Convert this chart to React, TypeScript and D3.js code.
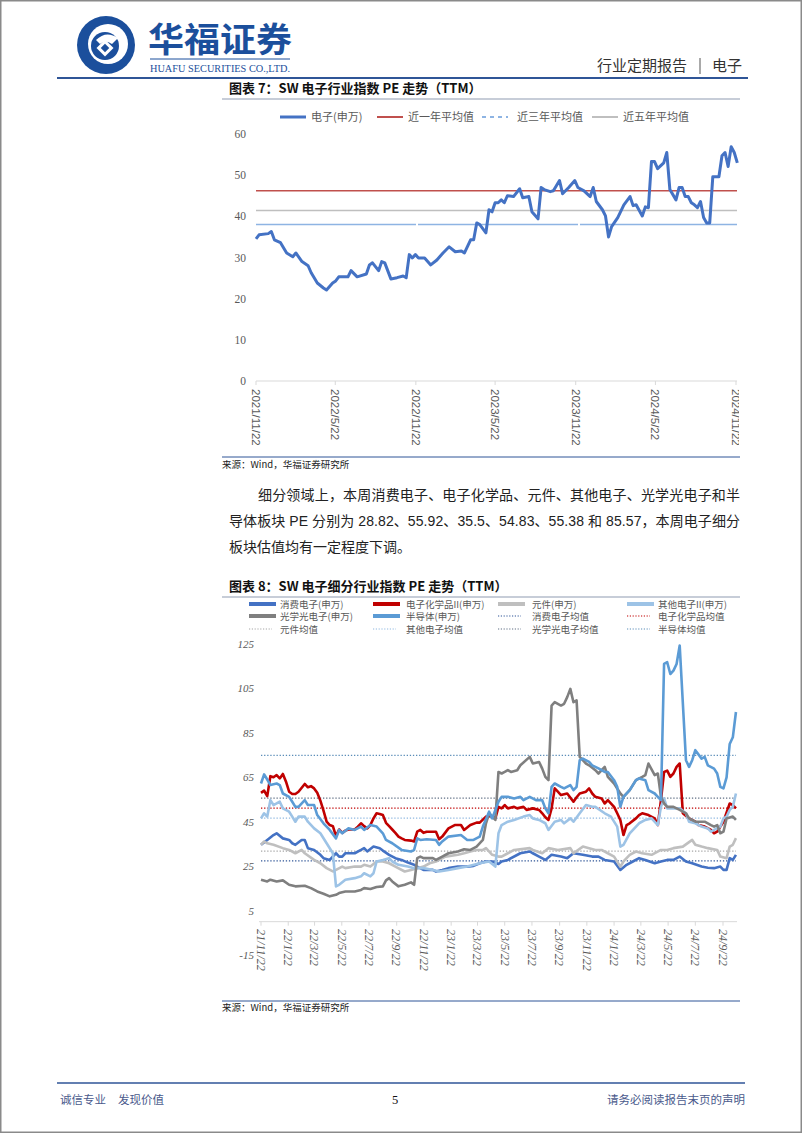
import React from 'react';
import * as d3 from 'd3';

type Pt = [number, number];

const CJK = "'Noto Sans CJK SC', 'Liberation Sans', sans-serif";
const MIX = "'Liberation Sans', 'Noto Sans CJK SC', sans-serif";
const SERIF = "'Liberation Serif', 'Noto Sans CJK SC', serif";

// ---------- Chart 1 data (week offset from 2021-11-22, PE) ----------
const START1 = '2021/11/22';
const END1 = '2024/11/22';
const PE_SW: Pt[] = [
  [0, 34.5], [1, 35.5], [4, 35.8], [5, 36.3], [6, 34.3], [8, 33.6], [10, 31.1], [12, 30.2], [13, 31.1], [15, 29.0],
  [17, 28.0], [18, 26.3], [20, 23.8], [22, 22.6], [23, 22.1], [25, 23.8], [26, 24.3], [27, 25.3], [30, 25.3], [31, 26.8],
  [33, 25.3], [36, 26.0], [37, 28.2], [38, 28.7], [40, 26.8], [41, 29.0], [42, 28.7], [44, 24.8], [46, 25.1], [48, 25.5],
  [49, 25.1], [50, 30.7], [51, 29.9], [52, 30.7], [53, 29.9], [55, 29.9], [57, 28.2], [59, 29.4], [61, 31.1], [63, 32.6],
  [65, 31.4], [67, 31.6], [68, 31.1], [70, 34.3], [71, 34.3], [72, 38.4], [73, 38.0], [75, 36.0], [76, 41.6], [77, 41.1],
  [78, 43.3], [79, 43.3], [80, 44.0], [81, 43.3], [82, 45.0], [84, 44.8], [86, 46.7], [87, 44.5], [89, 44.8], [90, 41.1],
  [92, 39.4], [93, 47.0], [94, 46.5], [96, 46.0], [97, 46.2], [99, 48.7], [100, 45.5], [102, 47.0], [104, 48.7], [105, 47.0],
  [107, 46.2], [109, 44.8], [110, 47.0], [111, 43.6], [113, 41.6], [114, 40.1], [115, 35.0], [116, 37.5], [118, 39.7], [120, 42.8],
  [122, 44.8], [123, 42.6], [124, 42.8], [126, 40.1], [127, 42.3], [128, 42.1], [129, 53.3], [130, 53.3], [131, 51.6], [133, 53.0],
  [134, 55.5], [135, 46.5], [137, 44.0], [138, 47.0], [139, 47.0], [140, 44.8], [141, 44.8], [142, 43.3], [143, 42.8], [144, 42.1],
  [145, 43.6], [146, 39.7], [147, 38.4], [148, 38.4], [149, 49.6], [151, 49.6], [152, 54.7], [153, 55.5], [154, 52.1], [155, 56.9],
  [156, 55.5], [157, 53.0],
];
const AVG_1Y = 46.2;
const AVG_3Y = 38.0;
const AVG_5Y = 41.4;
const Y1_TICKS = [0, 10, 20, 30, 40, 50, 60];
const X1_TICKS = ['2021/11/22', '2022/5/22', '2022/11/22', '2023/5/22', '2023/11/22', '2024/5/22', '2024/11/22'];
const LEGEND1 = ['电子(申万)', '近一年平均值', '近三年平均值', '近五年平均值'];

// ---------- Chart 2 data (week offset from 2021-11-22, PE) ----------
const CONSUMER: Pt[] = [
  [0, 34.6], [2, 36.8], [4, 39], [5, 39.8], [7, 37.5], [9, 36.8], [10, 35.3], [11, 34.6], [13, 36.8], [14, 36.8],
  [15, 33.1], [17, 32.3], [19, 30.1], [20, 28.6], [22, 27.8], [24, 30.8], [25, 29.3], [26, 29.3], [27, 30.8], [30, 30.8],
  [32, 32.3], [33, 33.1], [34, 31.6], [36, 33.8], [38, 33.1], [39, 32], [41, 30.1], [43, 28.6], [45, 27.8], [47, 26.6],
  [49, 25.6], [50, 24.8], [52, 23.3], [55, 23.3], [56, 22.6], [58, 23.3], [60, 24.1], [63, 24.8], [66, 24.8], [68, 25.1],
  [70, 26.3], [72, 27.1], [74, 27.1], [76, 26], [77, 27.1], [79, 27.8], [83, 30.8], [86, 31.6], [87, 30.8], [89, 29.3],
  [91, 27.8], [93, 30.1], [96, 29.3], [98, 28.6], [100, 30.8], [103, 30.1], [106, 29.3], [108, 29.3], [110, 27.8], [113, 27.1],
  [115, 23.3], [117, 25.6], [119, 27.1], [121, 28.6], [123, 27.8], [126, 26.3], [128, 27.1], [130, 27.8], [132, 27.8], [134, 29.3],
  [136, 27.1], [138, 26.3], [141, 24.8], [143, 24.3], [145, 24.1], [147, 24.8], [148, 23.3], [149, 23.3], [150, 28.6], [151, 27.8],
  [152, 30.1],
];
const CHEM: Pt[] = [
  [0, 58], [1, 59], [2, 56.5], [3, 65.5], [4, 65], [5, 66], [6, 64.5], [7, 66.5], [8, 63], [9, 58.5],
  [10, 57.5], [11, 57.5], [12, 58.5], [14, 62], [15, 60.5], [16, 61], [17, 60], [18, 58], [19, 54.5], [20, 50],
  [21, 45], [22, 43.5], [23, 43], [24, 38.5], [25, 41.5], [26, 40], [27, 41], [28, 41.5], [30, 41.5], [31, 42.8],
  [32, 44.3], [33, 43], [34, 42], [35, 43.5], [36, 46.5], [37, 48.8], [38, 48.5], [39, 48], [40, 44.5], [41, 43],
  [42, 41.5], [43, 40], [44, 38.3], [45, 37.5], [46, 36.8], [48, 36.5], [49, 36.1], [50, 40.5], [51, 41.3], [52, 40],
  [53, 40.5], [54, 40.5], [56, 40.5], [57, 37.1], [58, 38.3], [60, 42], [62, 43.5], [64, 43.5], [65, 41.3], [67, 43.5],
  [69, 44.6], [70, 44.6], [72, 47.3], [74, 47.6], [75, 46.5], [76, 51.7], [77, 51], [78, 52.5], [79, 51], [81, 51.7],
  [82, 51], [84, 51.7], [85, 50.3], [87, 51], [89, 50.3], [90, 48.8], [91, 47], [92, 45.8], [93, 51], [94, 60],
  [95, 58.5], [96, 57], [98, 57.7], [100, 54], [101, 56], [102, 57.7], [104, 58.5], [105, 60], [106, 57.7], [107, 56.2],
  [109, 55.5], [110, 53.2], [111, 54.7], [113, 51.7], [114, 48.8], [115, 45.8], [116, 39], [117, 43.5], [118, 44.3], [120, 46.5],
  [121, 48], [122, 48.8], [124, 48], [126, 46.5], [127, 43.5], [128, 54.7], [129, 67.4], [130, 68], [131, 65.2], [132, 66.7],
  [133, 69.7], [134, 71.2], [135, 48.8], [137, 46.5], [139, 45], [140, 43.5], [142, 42.8], [144, 41.3], [145, 39.8], [146, 40.5],
  [147, 42.8], [148, 45], [150, 53.2], [151, 52.5], [152, 51],
];
const COMPONENT: Pt[] = [
  [0, 34.6], [1, 36.1], [2, 35.3], [4, 34.6], [7, 33.1], [9, 32.3], [11, 30.8], [13, 32.3], [14, 30.8], [17, 27.8],
  [19, 26.3], [21, 24.1], [23, 22.6], [24, 23.3], [26, 24.8], [27, 24.1], [30, 24.8], [32, 24.8], [33, 25.6], [35, 24.8],
  [37, 27.1], [39, 27.1], [41, 26.3], [43, 24.8], [46, 22.6], [48, 23.3], [50, 24.1], [52, 24.8], [54, 26.3], [56, 27.1],
  [59, 29.3], [63, 30.1], [65, 30.8], [67, 31.6], [69, 32.3], [71, 32.3], [72, 33.1], [74, 30.1], [76, 29.3], [77, 29.3],
  [79, 30.8], [81, 32.3], [86, 33.1], [87, 32.3], [90, 30.8], [92, 33.1], [95, 32.3], [99, 33.1], [100, 30.8], [103, 33.8],
  [105, 33.1], [107, 32.3], [109, 32.3], [111, 30.8], [113, 29.3], [115, 24.8], [116, 27.1], [118, 30.1], [120, 31.6], [122, 30.8],
  [125, 30.1], [128, 32.3], [130, 32.3], [132, 33.1], [135, 33.8], [138, 36.8], [139, 34.6], [141, 33.8], [143, 33.1], [146, 32.3],
  [147, 29.3], [149, 28.6], [150, 33.8], [151, 34.6], [152, 37.6],
];
const OTHER: Pt[] = [
  [0, 46.5], [1, 48.8], [2, 47.3], [3, 54.7], [4, 52.5], [6, 54], [7, 51], [9, 49.5], [10, 47.3], [11, 45],
  [12, 47.3], [14, 47.3], [15, 45], [17, 42], [19, 39.8], [21, 35.3], [23, 30.8], [24, 15.9], [25, 16.6], [27, 18.9],
  [30, 19.6], [32, 20.4], [33, 21.8], [35, 20.4], [36, 21.8], [37, 27.1], [39, 27.8], [41, 28.6], [42, 27.1], [44, 25.6],
  [47, 24.8], [49, 24.1], [52, 24.1], [55, 23.3], [57, 22.6], [60, 23.3], [63, 24.1], [66, 24.8], [70, 26.3], [73, 27.1],
  [75, 24.8], [76, 39.8], [77, 43.5], [79, 45], [81, 45.8], [84, 47.3], [86, 48], [87, 46.5], [89, 45.8], [91, 44.3],
  [92, 41.3], [94, 45], [96, 45.8], [97, 44.3], [99, 46.5], [100, 45], [102, 48.8], [104, 52.5], [106, 51.7], [107, 51.7],
  [110, 48.8], [112, 47.3], [114, 42.8], [115, 33.8], [116, 34.6], [118, 39.8], [121, 44.3], [123, 45.8], [125, 46.5], [127, 43.5],
  [128, 51.7], [129, 55.5], [130, 51], [132, 51], [134, 51], [136, 48.8], [137, 45], [139, 44.3], [141, 42.8], [143, 42],
  [144, 40.5], [145, 41.3], [147, 42.8], [148, 46.5], [149, 47.3], [150, 50.3], [151, 51.7], [152, 57.7],
];
const OPTO: Pt[] = [
  [0, 18.9], [2, 18.1], [3, 18.9], [5, 18.1], [7, 18.6], [9, 16.6], [11, 15.9], [14, 16.2], [16, 15.1], [18, 13.6],
  [20, 12.6], [22, 11.4], [24, 12.1], [25, 12.9], [27, 13.6], [30, 13.6], [32, 14.3], [33, 15.1], [35, 14.7], [37, 15.6],
  [39, 15.9], [40, 18.6], [41, 19.6], [42, 18.1], [44, 15.9], [46, 16.6], [48, 17.7], [49, 16.6], [50, 28.6], [51, 29.3],
  [52, 28.6], [55, 28.6], [56, 27.8], [58, 29.3], [60, 30.8], [63, 31.6], [65, 32.6], [67, 32.3], [69, 33.8], [71, 36.8],
  [72, 44.3], [73, 48.8], [75, 45.8], [76, 67.4], [77, 66.7], [78, 67.4], [79, 68.2], [80, 67.4], [82, 68.2], [83, 70.4],
  [86, 74.2], [87, 71.2], [89, 71.9], [90, 68.9], [91, 65.2], [92, 63.7], [93, 97.3], [94, 98.8], [96, 97.3], [97, 98.1],
  [98, 101.1], [99, 104.8], [100, 98.8], [101, 99.6], [102, 74.2], [104, 71.2], [105, 70.4], [107, 68.2], [108, 66.7], [110, 69.7],
  [111, 65.2], [113, 62.2], [115, 57.7], [116, 56.2], [118, 59.2], [120, 63.7], [122, 65.2], [123, 66], [124, 71.2], [126, 66],
  [127, 66.7], [128, 56.2], [129, 53.2], [130, 51.7], [132, 51.7], [134, 50.3], [136, 48.8], [137, 46.5], [139, 45], [142, 45],
  [144, 43.5], [145, 42.8], [146, 43.5], [147, 39.8], [148, 40.5], [149, 46.5], [151, 47.3], [152, 45.8],
];
const SEMI: Pt[] = [
  [0, 62.2], [1, 66.3], [2, 64], [3, 61.5], [5, 62.2], [6, 61.5], [7, 57.7], [9, 56.2], [10, 54], [11, 51.7],
  [12, 51.7], [14, 54.7], [15, 52.5], [17, 52.5], [18, 48], [20, 44.3], [22, 41.3], [24, 37.5], [25, 41.3], [26, 39.8],
  [28, 42], [30, 41.3], [32, 42.8], [33, 41.3], [35, 43.5], [37, 42.8], [39, 39.8], [40, 36.8], [42, 35.3], [45, 32.3],
  [48, 31.6], [49, 32.3], [50, 37.5], [51, 36.8], [53, 37.1], [56, 36.8], [57, 34.6], [58, 36.1], [60, 38.3], [64, 39],
  [66, 36.8], [68, 36.8], [70, 38.3], [71, 42.8], [73, 49.5], [74, 46.5], [76, 54], [77, 56.2], [79, 56.2], [81, 55.5],
  [83, 56.2], [84, 54.7], [86, 56.2], [88, 54.7], [90, 54.7], [91, 51], [92, 48.8], [93, 60.7], [94, 62.2], [96, 60.7],
  [97, 60], [99, 61.5], [100, 59.2], [101, 60.7], [102, 72.7], [103, 73.4], [105, 71.9], [106, 70.4], [108, 69], [110, 67.4],
  [111, 67.4], [113, 63.7], [114, 60.7], [115, 51.7], [116, 56.2], [118, 59.2], [120, 63.7], [121, 64.5], [123, 63.7], [124, 59.2],
  [126, 57.7], [127, 56.2], [128, 54.7], [129, 116], [130, 116.8], [131, 111.5], [132, 113], [133, 116], [134, 124.3], [136, 72.7],
  [137, 69.7], [138, 72.7], [139, 77.2], [141, 73.4], [142, 74.2], [143, 70.4], [145, 68.9], [146, 66.7], [147, 60.7], [148, 60],
  [149, 65], [150, 80], [151, 83], [152, 94.4],
];
const MEAN_CONSUMER = 27.4;
const MEAN_CHEM = 51.1;
const MEAN_COMPONENT = 31.8;
const MEAN_OTHER = 46.6;
const MEAN_OPTO = 55.6;
const MEAN_SEMI = 74.9;
const Y2_TICKS = [-15, 5, 25, 45, 65, 85, 105, 125];
const X2_TICKS = ['21/11/22', '22/1/22', '22/3/22', '22/5/22', '22/7/22', '22/9/22', '22/11/22', '23/1/22', '23/3/22',
  '23/5/22', '23/7/22', '23/9/22', '23/11/22', '24/1/22', '24/3/22', '24/5/22', '24/7/22', '24/9/22'];

const SERIES2 = [
  { name: '消费电子(申万)', data: CONSUMER, color: '#4472C4' },
  { name: '电子化学品II(申万)', data: CHEM, color: '#C00000' },
  { name: '元件(申万)', data: COMPONENT, color: '#BFBFBF' },
  { name: '其他电子II(申万)', data: OTHER, color: '#9DC3E6' },
  { name: '光学光电子(申万)', data: OPTO, color: '#7F7F7F' },
  { name: '半导体(申万)', data: SEMI, color: '#5B9BD5' },
];
const MEANS2 = [
  { name: '消费电子均值', value: MEAN_CONSUMER, color: '#2F5597' },
  { name: '电子化学品均值', value: MEAN_CHEM, color: '#C00000' },
  { name: '元件均值', value: MEAN_COMPONENT, color: '#A6A6A6' },
  { name: '其他电子均值', value: MEAN_OTHER, color: '#8FB8E0' },
  { name: '光学光电子均值', value: MEAN_OPTO, color: '#5F6F84' },
  { name: '半导体均值', value: MEAN_SEMI, color: '#5B8DB8' },
];

const PARA = [
  '细分领域上，本周消费电子、电子化学品、元件、其他电子、光学光电子和半',
  '导体板块 PE 分别为 28.82、55.92、35.5、54.83、55.38 和 85.57，本周电子细分',
  '板块估值均有一定程度下调。',
];

const parseFull = (s: string) => { const [y, m, d] = s.split('/').map(Number); return new Date(y, m - 1, d); };
const parseShort = (s: string) => { const [y, m, d] = s.split('/').map(Number); return new Date(2000 + y, m - 1, d); };

export default function App() {
  const start = parseFull(START1);
  const wk = (w: number) => d3.timeDay.offset(start, w * 7);

  // chart 1
  const x1 = d3.scaleTime().domain([start, parseFull(END1)]).range([256, 736]);
  const y1 = d3.scaleLinear().domain([0, 60]).range([381, 134]);
  const line1 = d3.line<Pt>().x(d => x1(wk(d[0]))).y(d => y1(d[1]));

  // chart 2
  const x2 = d3.scaleTime().domain([start, parseShort('24/9/22')]).range([261, 723]);
  const y2 = d3.scaleLinear().domain([-15, 125]).range([955, 644]);
  const line2 = d3.line<Pt>().x(d => x2(wk(d[0]))).y(d => y2(d[1]));
  const x2end = x2(wk(152));

  const legend1Colors = ['#4472C4', '#C0504D', '#8EB4E3', '#BFBFBF'];
  const legend1LineX = [280, 377, 482, 592];
  const legend1TextX = [311, 408, 517, 623];

  const colX = [249, 373, 498, 627];
  const colTextX = [280, 406, 532, 658];
  const rowY = [604, 616, 629];
  const legend2 = [
    ...SERIES2.map(s => ({ name: s.name, color: s.color, dot: false })),
    ...MEANS2.map(m => ({ name: m.name, color: m.color, dot: true })),
  ];

  return (
    <svg width={802} height={1133} style={{ position: 'absolute', left: 0, top: 0, background: '#fff' }}>
      <defs>
        <clipPath id="clipX1"><rect x={200} y={380} width={539} height={80} /></clipPath>
      </defs>
      <rect x={0.75} y={0.75} width={800.5} height={1131.5} fill="#fff" stroke="#8a8a8a" strokeWidth={1.5} />

      {/* Header */}
      <g>
        <circle cx={106} cy={45} r={29} fill="#1B4F9C" />
        <circle cx={108} cy={44} r={20} fill="#fff" />
        <circle cx={105} cy={46} r={14} fill="#1B4F9C" />
        <path d="M 96 40 Q 106 30 118 38 L 112 44 Q 105 39 100 44 Z" fill="#fff" />
        <rect x={99} y={42} width={12} height={12} fill="#fff" transform="rotate(45 105 48)" />
        <rect x={102} y={45} width={6} height={6} fill="#1B4F9C" transform="rotate(45 105 48)" />
        <text x={148} y={52} fontFamily={CJK} fontSize={34} fontWeight={700} fill="#1B4F9C" textLength={144} lengthAdjust="spacingAndGlyphs">华福证券</text>
        <line x1={150} y1={59} x2={290} y2={59} stroke="#1B4F9C" strokeWidth={1} />
        <text x={150} y={72} fontFamily={SERIF} fontSize={11} fill="#1B4F9C" textLength={140} lengthAdjust="spacingAndGlyphs">HUAFU SECURITIES CO.,LTD.</text>
        <text x={597} y={71} fontFamily={CJK} fontSize={15} fill="#333">行业定期报告</text>
        <line x1={700} y1={58} x2={700} y2={74} stroke="#555" strokeWidth={1} />
        <text x={712} y={71} fontFamily={CJK} fontSize={15} fill="#333">电子</text>
        <line x1={57} y1={78} x2={748} y2={78} stroke="#2F5597" strokeWidth={2} />
      </g>

      {/* Chart 1 title */}
      <text x={229} y={93} fontFamily={CJK} fontSize={13} fontWeight={700} fill="#111">图表 7：SW 电子行业指数 PE 走势（TTM）</text>
      <line x1={222} y1={99} x2={740} y2={99} stroke="#B4BCCB" strokeWidth={1.5} />

      {/* Chart 1 legend */}
      {LEGEND1.map((t, i) => (
        <g key={t}>
          <line x1={legend1LineX[i]} x2={legend1LineX[i] + 26} y1={117} y2={117} stroke={legend1Colors[i]}
            strokeWidth={i === 0 ? 3 : 2} strokeDasharray={i === 2 ? '4 4' : undefined} />
          <text x={legend1TextX[i]} y={121} fontFamily={CJK} fontSize={11} fill="#595959">{t}</text>
        </g>
      ))}

      {/* Chart 1 axes */}
      {Y1_TICKS.map(t => (
        <text key={t} x={246} y={y1(t) + 4} textAnchor="end" fontFamily={SERIF} fontSize={11.5} fill="#595959">{t}</text>
      ))}
      <line x1={256} x2={737} y1={y1(0)} y2={y1(0)} stroke="#D9D9D9" strokeWidth={1} />
      {X1_TICKS.map(t => {
        const xx = x1(parseFull(t));
        return <line key={t} x1={xx} x2={xx} y1={y1(0)} y2={y1(0) + 4} stroke="#D9D9D9" />;
      })}
      <g clipPath="url(#clipX1)">
        {X1_TICKS.map(t => {
          const xx = x1(parseFull(t));
          return (
            <text key={t} transform={`translate(${xx},${389}) rotate(90)`} dy="0.35em" fontFamily={MIX} fontSize={11.5} fill="#595959">{t}</text>
          );
        })}
      </g>

      {/* Chart 1 averages and line */}
      <line x1={256} x2={737} y1={y1(AVG_5Y)} y2={y1(AVG_5Y)} stroke="#BFBFBF" strokeWidth={1.5} />
      <line x1={256} x2={737} y1={y1(AVG_3Y)} y2={y1(AVG_3Y)} stroke="#8EB4E3" strokeWidth={1.5} strokeDasharray="160 2" />
      <line x1={256} x2={737} y1={y1(AVG_1Y)} y2={y1(AVG_1Y)} stroke="#C0504D" strokeWidth={1.5} />
      <path d={line1(PE_SW) || ''} fill="none" stroke="#4472C4" strokeWidth={3} strokeLinejoin="round" />

      {/* Chart 1 source */}
      <line x1={222} x2={740} y1={457} y2={457} stroke="#2F5597" strokeWidth={1} />
      <text x={222} y={468} fontFamily={CJK} fontSize={9.5} fill="#222">来源：Wind，华福证券研究所</text>

      {/* Paragraph */}
      <text x={258} y={500} fontFamily={CJK} fontSize={14} fill="#222" textLength={482} lengthAdjust="spacing">{PARA[0]}</text>
      <text x={229} y={526} fontFamily={MIX} fontSize={14} fill="#222" textLength={511} lengthAdjust="spacing">{PARA[1]}</text>
      <text x={229} y={552} fontFamily={CJK} fontSize={14} fill="#222">{PARA[2]}</text>

      {/* Chart 2 title */}
      <text x={229} y={591} fontFamily={CJK} fontSize={13} fontWeight={700} fill="#111">图表 8：SW 电子细分行业指数 PE 走势（TTM）</text>
      <line x1={222} y1={597} x2={740} y2={597} stroke="#B4BCCB" strokeWidth={1.5} />

      {/* Chart 2 legend */}
      {legend2.map((l, i) => {
        const r = Math.floor(i / 4), c = i % 4;
        return (
          <g key={l.name}>
            <line x1={colX[c]} x2={colX[c] + (l.dot ? 23 : 27)} y1={rowY[r]} y2={rowY[r]} stroke={l.color}
              strokeWidth={l.dot ? 1.2 : 4} strokeDasharray={l.dot ? '1.2 1.6' : undefined} />
            <text x={colTextX[c]} y={rowY[r] + 3.5} fontFamily={CJK} fontSize={9.5} fill="#595959">{l.name}</text>
          </g>
        );
      })}

      {/* Chart 2 axes */}
      {Y2_TICKS.map(t => (
        <text key={t} x={254} y={y2(t) + 4} textAnchor="end" fontFamily={SERIF} fontStyle="italic" fontSize={11} fill="#595959">{t}</text>
      ))}
      <line x1={259} x2={737} y1={y2(0)} y2={y2(0)} stroke="#D9D9D9" strokeWidth={1} />
      {X2_TICKS.map(t => {
        const xx = x2(parseShort(t));
        return (
          <g key={t}>
            <line x1={xx} x2={xx} y1={y2(0)} y2={y2(0) + 4} stroke="#D9D9D9" />
            <text transform={`translate(${xx},${929}) rotate(90)`} dy="0.35em" fontFamily={SERIF} fontStyle="italic" fontSize={12} fill="#595959">{t}</text>
          </g>
        );
      })}

      {/* Chart 2 means */}
      {MEANS2.map(m => (
        <line key={m.name} x1={261} x2={x2end} y1={y2(m.value)} y2={y2(m.value)} stroke={m.color} strokeWidth={1.3} strokeDasharray="1.3 1.8" />
      ))}
      {/* Chart 2 series */}
      {SERIES2.map(s => (
        <path key={s.name} d={line2(s.data) || ''} fill="none" stroke={s.color} strokeWidth={2.6} strokeLinejoin="round" />
      ))}

      {/* Chart 2 source */}
      <line x1={222} x2={740} y1={1001} y2={1001} stroke="#2F5597" strokeWidth={1} />
      <text x={222} y={1011} fontFamily={CJK} fontSize={9.5} fill="#222">来源：Wind，华福证券研究所</text>

      {/* Footer */}
      <line x1={57} x2={745} y1={1083} y2={1083} stroke="#2F5597" strokeWidth={1.5} />
      <text x={60} y={1104} fontFamily={CJK} fontSize={11.5} fill="#4A5A8C">诚信专业</text>
      <text x={118} y={1104} fontFamily={CJK} fontSize={11.5} fill="#4A5A8C">发现价值</text>
      <text x={395} y={1104} textAnchor="middle" fontFamily={SERIF} fontSize={12.5} fill="#111">5</text>
      <text x={745} y={1104} textAnchor="end" fontFamily={CJK} fontSize={11.5} fill="#4A5A8C">请务必阅读报告末页的声明</text>
    </svg>
  );
}
